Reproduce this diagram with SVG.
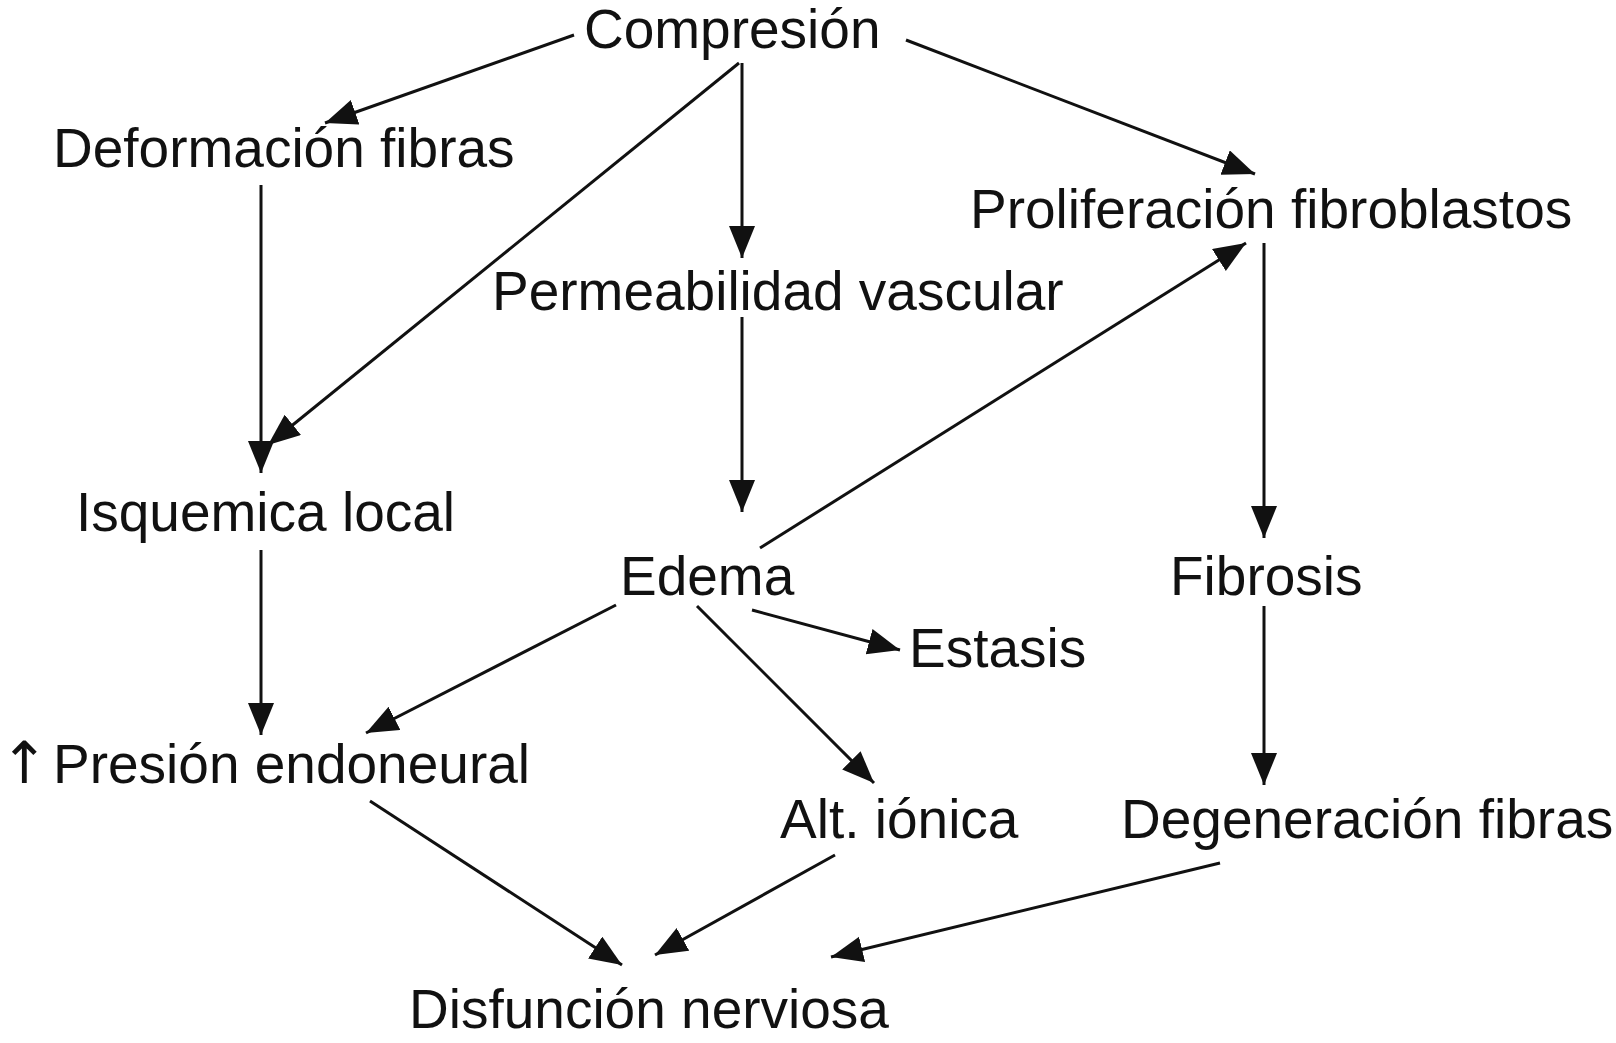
<svg xmlns="http://www.w3.org/2000/svg" width="1616" height="1043" viewBox="0 0 1616 1043">
<style>
.t{font-family:"Liberation Sans",Arial,Helvetica,sans-serif;font-size:55px;fill:#111}
.arr{font-family:"DejaVu Sans",sans-serif;font-size:58px}
.c line{stroke:#111;stroke-width:3;fill:none;marker-end:url(#ah)}
</style>
<defs>
<marker id="ah" markerUnits="userSpaceOnUse" markerWidth="34" markerHeight="28" viewBox="0 0 34 28" refX="32" refY="13" orient="auto">
<path d="M0,0 L32,13 L0,26 z" fill="#111"/>
</marker>
</defs>
<rect width="1616" height="1043" fill="#fff"/>
<g id="connectors" class="c">
<line x1="574" y1="35" x2="325" y2="123"/>
<line x1="739" y1="63" x2="268" y2="445"/>
<line x1="742" y1="63" x2="742" y2="258"/>
<line x1="906" y1="40" x2="1255" y2="174"/>
<line x1="261" y1="185" x2="261" y2="473"/>
<line x1="742" y1="317" x2="742" y2="512"/>
<line x1="760" y1="548" x2="1246" y2="243"/>
<line x1="1264" y1="243" x2="1264" y2="538"/>
<line x1="261" y1="550" x2="261" y2="735"/>
<line x1="616" y1="605" x2="366" y2="733"/>
<line x1="697" y1="606" x2="874" y2="783"/>
<line x1="752" y1="610" x2="900" y2="650"/>
<line x1="1264" y1="606" x2="1264" y2="785"/>
<line x1="370" y1="801" x2="622" y2="965"/>
<line x1="835" y1="855" x2="655" y2="955"/>
<line x1="1220" y1="863" x2="831" y2="957"/>
</g>
<g id="n-compresion"><text class="t" x="584" y="48">Compresión</text></g>
<g id="n-deformacion"><text class="t" x="53" y="167">Deformación fibras</text></g>
<g id="n-proliferacion"><text class="t" x="970" y="228">Proliferación fibroblastos</text></g>
<g id="n-permeabilidad"><text class="t" x="492" y="310">Permeabilidad vascular</text></g>
<g id="n-isquemica"><text class="t" x="76" y="531">Isquemica local</text></g>
<g id="n-edema"><text class="t" x="620" y="595">Edema</text></g>
<g id="n-fibrosis"><text class="t" x="1170" y="595">Fibrosis</text></g>
<g id="n-estasis"><text class="t" x="909" y="667">Estasis</text></g>
<g id="n-presion"><text class="t" x="0" y="783"><tspan class="arr">↑</tspan> <tspan x="53">Presión endoneural</tspan></text></g>
<g id="n-alt"><text class="t" x="780" y="838">Alt. iónica</text></g>
<g id="n-degeneracion"><text class="t" x="1121" y="838">Degeneración fibras</text></g>
<g id="n-disfuncion"><text class="t" x="409" y="1028">Disfunción nerviosa</text></g>
</svg>
